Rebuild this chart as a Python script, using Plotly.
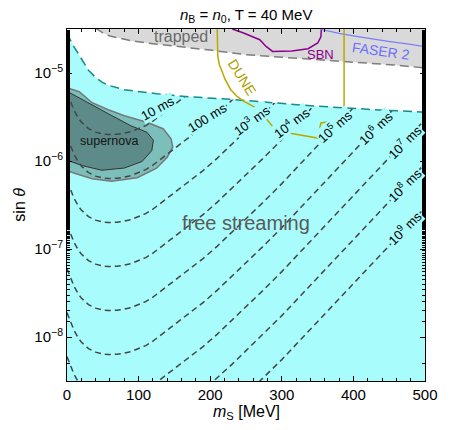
import plotly.graph_objects as go

# ---------------- data ----------------
X_RANGE = [0, 500]
Y_LOG_RANGE = [-8.5, -4.5]

# lifetime contours: common shape (rise above the minimum, in decades of sin theta)
shape_m = [0, 5, 10, 15, 20, 30, 40, 50, 58, 70, 80, 90, 100, 110, 120, 130, 150, 170,
           190, 210, 230, 250, 275, 300, 325, 350, 375, 400, 425, 450, 475, 500]
shape_rise = [0.477, 0.364, 0.273, 0.199, 0.142, 0.068, 0.028, 0.007, 0.0, 0.005, 0.016,
              0.036, 0.066, 0.102, 0.153, 0.216, 0.335, 0.46, 0.591, 0.733, 0.886, 1.045,
              1.239, 1.443, 1.659, 1.875, 2.091, 2.307, 2.523, 2.739, 2.955, 3.17]
# minimum (log10 sin theta) of each contour
contour_min_log = [-5.70, -6.20, -6.70, -7.20, -7.70, -8.20, -8.70, -9.20, -9.70]
contour_text = ["10 ms", "100 ms", "10<sup>3</sup> ms", "10<sup>4</sup> ms",
                "10<sup>5</sup> ms", "10<sup>6</sup> ms", "10<sup>7</sup> ms",
                "10<sup>8</sup> ms", "10<sup>9</sup> ms"]
label_m = [126.5, 196.6, 257.4, 314.1, 373.5, 430.2, 470.7, 470.7, 470.7]
label_log = [-5.406, -5.508, -5.531, -5.559, -5.599, -5.622, -5.781, -6.269, -6.758]
label_angle = [-29, -32, -36, -37, -42, -44, -45, -45, -45]

# free-streaming boundary
fs_m = [0, 8, 15, 22, 30, 40, 50, 60, 80, 125, 170, 235, 340, 430, 500]
fs_log = [-4.55, -4.68, -4.77, -4.87, -4.97, -5.05, -5.11, -5.145, -5.19, -5.235,
          -5.27, -5.303, -5.372, -5.417, -5.445]

# trapped boundary
tr_m = [40, 50, 60, 75, 90, 120, 160, 200, 250, 320, 400, 460, 500]
tr_log = [-4.49, -4.545, -4.58, -4.61, -4.635, -4.667, -4.70, -4.74, -4.792, -4.832,
          -4.872, -4.911, -4.943]

# supernova regions
sn_out_m = [0, 17.1, 35.1, 57.6, 80.2, 111.6, 134.2, 145.4, 147.7, 140, 125.1, 98.1,
            62.1, 35.1, 12.7, 0]
sn_out_log = [-5.167, -5.2125, -5.3375, -5.417, -5.485, -5.559, -5.633, -5.747, -5.843,
              -5.957, -6.082, -6.19, -6.23, -6.201, -6.144, -6.11]
sn_in_m = [0, 26.2, 57.6, 89.1, 111.6, 120.7, 118.4, 104.9, 80.2, 48.6, 21.6, 0]
sn_in_log = [-5.207, -5.326, -5.4625, -5.599, -5.673, -5.764, -5.883, -6.0045, -6.08,
             -6.105, -6.053, -5.991]

# experiments
sbn_m = [230.8, 246.6, 269.2, 278.1, 287.1, 314.1, 336.7, 350.2, 354.6, 355.3]
sbn_log = [-4.5, -4.545, -4.622, -4.698, -4.755, -4.75, -4.724, -4.659, -4.588, -4.5]
faser_m = [355, 380, 404, 427, 449, 475, 500]
faser_log = [-4.505, -4.55, -4.584, -4.617, -4.641, -4.67, -4.70]
dune_m = [209.8, 210.6, 212.9, 216.3, 221, 228.7, 237.6, 246.6, 264.6, 273.6, 277.7,
          287.1, 309.7, 350.2, 352, 354.6, 368.1, 381.6, 387, 387]
dune_log = [-4.5, -4.811, -4.906, -4.985, -5.076, -5.19, -5.266, -5.32, -5.398, -5.455,
            -5.514, -5.607, -5.682, -5.739, -5.656, -5.568, -5.55, -5.511, -5.455, -4.5]

# ---------------- figure ----------------
CYAN = "rgb(168,252,252)"
FONT = "Liberation Sans, Arial, sans-serif"
lo = 10 ** (Y_LOG_RANGE[0] - 0.1)
hi = 10 ** (Y_LOG_RANGE[1] + 0.1)


def p(v):
    return [10 ** a for a in v]


fig = go.Figure()

# free-streaming (cyan) region
fig.add_trace(go.Scatter(x=fs_m + [X_RANGE[1], X_RANGE[0]], y=p(fs_log) + [lo, lo],
                         fill="toself", fillcolor=CYAN, mode="lines",
                         line=dict(width=0), hoverinfo="skip"))
# supernova regions
fig.add_trace(go.Scatter(x=sn_out_m, y=p(sn_out_log), fill="toself",
                         fillcolor="rgb(124,190,186)", mode="lines",
                         line=dict(color="rgb(120,120,120)", width=1.5)))
fig.add_trace(go.Scatter(x=sn_in_m, y=p(sn_in_log), fill="toself",
                         fillcolor="rgb(93,139,137)", mode="lines",
                         line=dict(color="rgb(50,50,50)", width=1)))
# lifetime contours
for mn in contour_min_log:
    fig.add_trace(go.Scatter(x=shape_m, y=[10 ** (mn + r) for r in shape_rise],
                             mode="lines",
                             line=dict(color="rgb(70,70,70)", width=1.5, dash="6px,4px")))
# white mask above free-streaming boundary
fig.add_trace(go.Scatter(x=fs_m + [X_RANGE[1], X_RANGE[0]], y=p(fs_log) + [hi, hi],
                         fill="toself", fillcolor="white", mode="lines",
                         line=dict(width=0)))
# trapped region
fig.add_trace(go.Scatter(x=tr_m + [X_RANGE[1], tr_m[0]], y=p(tr_log) + [hi, hi],
                         fill="toself", fillcolor="rgb(217,217,217)", mode="lines",
                         line=dict(width=0)))
fig.add_trace(go.Scatter(x=tr_m, y=p(tr_log), mode="lines",
                         line=dict(color="rgb(125,125,125)", width=1.5, dash="9px,5px")))
fig.add_trace(go.Scatter(x=fs_m, y=p(fs_log), mode="lines",
                         line=dict(color="rgb(20,140,140)", width=1.5, dash="9px,5px")))
# experiments
fig.add_trace(go.Scatter(x=sbn_m, y=p(sbn_log), mode="lines",
                         line=dict(color="rgb(140,0,140)", width=1.5)))
fig.add_trace(go.Scatter(x=faser_m, y=p(faser_log), mode="lines",
                         line=dict(color="rgb(125,125,255)", width=1.2)))
fig.add_trace(go.Scatter(x=dune_m, y=p(dune_log), mode="lines",
                         line=dict(color="rgb(185,170,0)", width=1.5)))

ann = []
for t, xm, yl, ang in zip(contour_text, label_m, label_log, label_angle):
    ann.append(dict(x=xm, y=yl, xref="x", yref="y", text=t, showarrow=False,
                    textangle=ang, bgcolor=CYAN, borderpad=0,
                    font=dict(size=13, color="black", family=FONT)))
ann += [
    dict(x=158.9, y=-4.59, text="trapped", font=dict(size=16, color="rgb(105,105,105)")),
    dict(x=59, y=-5.775, text="supernova", font=dict(size=12.5, color="rgb(20,20,20)")),
    dict(x=249.3, y=-6.70, text="free streaming", font=dict(size=20, color="rgb(90,90,90)")),
    dict(x=354.6, y=-4.795, text="SBN", font=dict(size=13, color="rgb(140,0,140)")),
    dict(x=438.3, y=-4.752, text="FASER 2", textangle=8,
         font=dict(size=14, color="rgb(110,110,255)")),
    dict(x=244, y=-5.05, text="DUNE", textangle=58,
         font=dict(size=14, color="rgb(175,160,0)")),
]
for a in ann[len(contour_text):]:
    a.update(xref="x", yref="y", showarrow=False)
    a["font"]["family"] = FONT

# axis titles / plot title
ann += [
    dict(x=0.5, y=-0.09, xref="paper", yref="paper", xanchor="center", yanchor="middle",
         text="<i>m</i><sub>S</sub> [MeV]", showarrow=False,
         font=dict(size=16, color="black", family=FONT)),
    dict(x=-0.135, y=0.5, xref="paper", yref="paper", xanchor="center", yanchor="middle",
         textangle=-90, text="sin <i>θ</i>", showarrow=False,
         font=dict(size=16, color="black", family=FONT)),
    dict(x=0.5, y=1.0, xref="paper", yref="paper", xanchor="center", yanchor="bottom",
         yshift=2,
         text="<i>n</i><sub>B</sub> = <i>n</i><sub>0</sub>, T = 40 MeV", showarrow=False,
         font=dict(size=15, color="black", family=FONT)),
]

# the page body keeps its default 8px margin; the figure is sized so that
# margin + figure + margin = 454 x 430 exactly
fig.update_layout(
    width=438, height=414,
    margin=dict(l=59, r=8, t=21, b=41),
    paper_bgcolor="white", plot_bgcolor="white",
    showlegend=False,
    font=dict(family=FONT, size=15, color="black"),
    annotations=ann,
)
fig.update_xaxes(range=X_RANGE, tickvals=[0, 100, 200, 300, 400, 500],
                 ticks="inside", ticklen=5, tickcolor="black",
                 ticklabeloverflow="allow",
                 showline=True, linecolor="black", linewidth=1, mirror="ticks",
                 showgrid=False, zeroline=False,
                 minor=dict(ticks="inside", ticklen=3, dtick=20, tickcolor="black"),
                 tickfont=dict(size=15))
fig.update_yaxes(type="log", range=Y_LOG_RANGE,
                 tickvals=[1e-8, 1e-7, 1e-6, 1e-5],
                 ticktext=["10<sup>−8</sup>", "10<sup>−7</sup>", "10<sup>−6</sup>", "10<sup>−5</sup>"],
                 ticks="inside", ticklen=5, tickcolor="black",
                 showline=True, linecolor="black", linewidth=1, mirror="ticks",
                 showgrid=False, zeroline=False,
                 minor=dict(ticks="inside", ticklen=3, tickcolor="black"),
                 tickfont=dict(size=15))

# let texts near the figure edge (e.g. "500") spill into the page margin
fig.write_html("out.html",
               config={"displayModeBar": False},
               post_script="document.querySelectorAll('.main-svg').forEach("
                           "function(s){s.style.overflow='visible';});")
